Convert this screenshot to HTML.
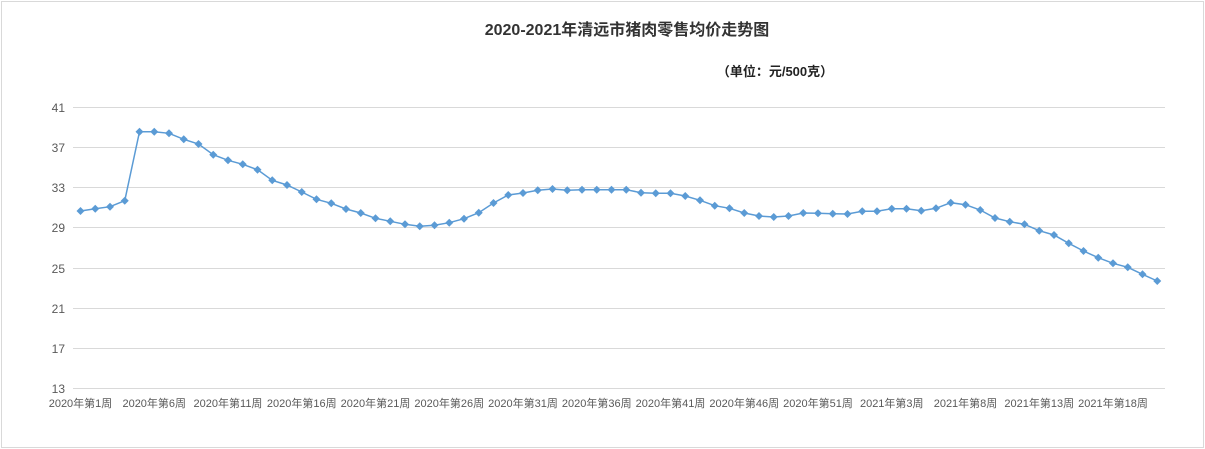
<!DOCTYPE html>
<html><head><meta charset="utf-8"><style>
body{margin:0;background:#fff;}
svg{display:block;font-family:"Liberation Sans","Noto Sans CJK SC",sans-serif;}
</style></head><body>
<svg width="1205" height="449" xmlns="http://www.w3.org/2000/svg">
<defs>
<marker id="d" markerUnits="userSpaceOnUse" markerWidth="10" markerHeight="10" refX="5" refY="5" orient="0">
<polygon points="5,1 9,5 5,9 1,5" fill="#5b9bd5"/>
</marker>
</defs>
<rect x="1.5" y="1.5" width="1202" height="446" fill="#fff" stroke="#d9d9d9"/>
<text x="627" y="35" text-anchor="middle" font-size="16" font-weight="bold" fill="#333">2020-2021年清远市猪肉零售均价走势图</text>
<text x="775" y="76" text-anchor="middle" font-size="13" font-weight="bold" fill="#222">（单位：元/500克）</text>
<g stroke="#d9d9d9" stroke-width="1">
<line x1="73" x2="1165" y1="107.5" y2="107.5"/><line x1="73" x2="1165" y1="147.5" y2="147.5"/>
<line x1="73" x2="1165" y1="187.5" y2="187.5"/><line x1="73" x2="1165" y1="227.5" y2="227.5"/>
<line x1="73" x2="1165" y1="268.5" y2="268.5"/><line x1="73" x2="1165" y1="308.5" y2="308.5"/>
<line x1="73" x2="1165" y1="348.5" y2="348.5"/><line x1="73" x2="1165" y1="388.5" y2="388.5"/>
</g>
<g font-size="12" fill="#595959" text-anchor="end">
<text x="65" y="112">41</text><text x="65" y="152">37</text><text x="65" y="192">33</text><text x="65" y="232">29</text>
<text x="65" y="273">25</text><text x="65" y="313">21</text><text x="65" y="353">17</text><text x="65" y="393">13</text>
</g>
<g font-size="11" fill="#595959" text-anchor="middle">
<text x="80.5" y="407">2020年第1周</text>
<text x="154.25" y="407">2020年第6周</text>
<text x="228" y="407">2020年第11周</text>
<text x="301.75" y="407">2020年第16周</text>
<text x="375.5" y="407">2020年第21周</text>
<text x="449.25" y="407">2020年第26周</text>
<text x="523" y="407">2020年第31周</text>
<text x="596.75" y="407">2020年第36周</text>
<text x="670.5" y="407">2020年第41周</text>
<text x="744.25" y="407">2020年第46周</text>
<text x="818" y="407">2020年第51周</text>
<text x="891.75" y="407">2021年第3周</text>
<text x="965.5" y="407">2021年第8周</text>
<text x="1039.25" y="407">2021年第13周</text>
<text x="1113" y="407">2021年第18周</text>
</g>
<polyline fill="none" stroke="#5b9bd5" stroke-width="1.5" marker-start="url(#d)" marker-mid="url(#d)" marker-end="url(#d)" points="80.5,211 95.25,208.7 110,206.7 124.75,200.7 139.5,131.7 154.25,131.7 169,133.3 183.75,139.3 198.5,144 213.25,154.7 228,160.3 242.75,164.3 257.5,169.7 272.25,180.3 287,185 301.75,192 316.5,199.3 331.25,203.3 346,209 360.75,213 375.5,218.3 390.25,221.3 405,224.3 419.75,226.3 434.5,225.3 449.25,222.7 464,218.7 478.75,212.7 493.5,203 508.25,195 523,193 537.75,190.3 552.5,189 567.25,190.3 582,189.7 596.75,189.7 611.5,189.7 626.25,189.7 641,192.7 655.75,193.3 670.5,193.3 685.25,196 700,200.3 714.75,205.7 729.5,208.3 744.25,213 759,216 773.75,217 788.5,216 803.25,213 818,213.3 832.75,213.7 847.5,214 862.25,211.3 877,211.3 891.75,208.7 906.5,208.7 921.25,210.7 936,208.3 950.75,202.7 965.5,204.7 980.25,210 995,218 1009.75,221.7 1024.5,224.3 1039.25,230.7 1054,235 1068.75,243.3 1083.5,251 1098.25,257.7 1113,263.3 1127.75,267.3 1142.5,274.3 1157.25,281"/>
</svg>
</body></html>
